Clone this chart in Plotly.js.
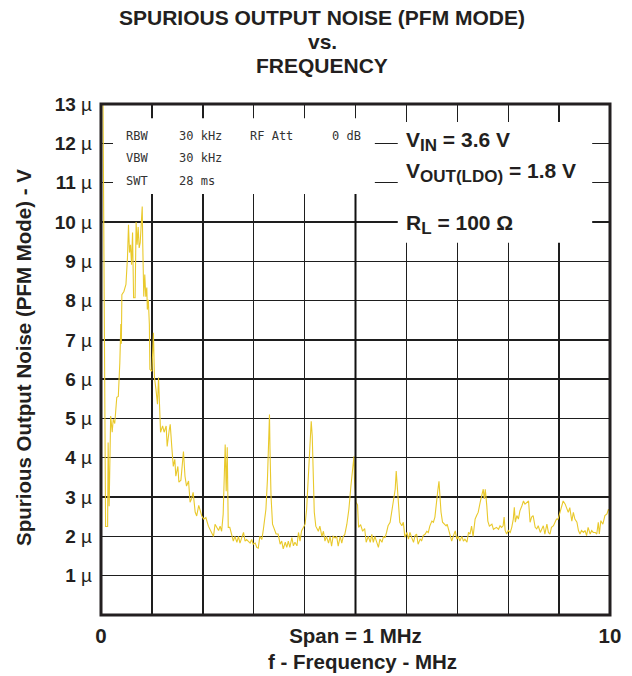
<!DOCTYPE html>
<html>
<head>
<meta charset="utf-8">
<script src="https://cdn.plot.ly/plotly-3.0.1.min.js"></script>
<style>html,body{margin:0;padding:0;background:#fff;}#chart{width:632px;height:676px;}</style>
</head>
<body>
<div id="chart"></div>
<script>
// Frequency (MHz) and spurious output noise (µV)
const freqMHz = [
0.00,0.04,0.09,0.13,0.14,0.16,0.19,0.22,0.24,0.27,0.31,0.34,0.37,0.39,0.40,0.41,0.45,0.49,0.52,0.54,
0.56,0.58,0.60,0.62,0.64,0.67,0.69,0.71,0.73,0.75,0.77,0.79,0.81,0.82,0.84,0.86,0.88,0.90,0.91,0.93,
0.95,0.96,1.00,1.03,1.05,1.08,1.11,1.13,1.15,1.17,1.21,1.24,1.28,1.30,1.34,1.36,1.39,1.42,1.45,1.47,
1.51,1.53,1.57,1.59,1.62,1.65,1.68,1.72,1.75,1.78,1.81,1.85,1.88,1.92,1.95,1.98,2.02,2.06,2.11,2.18,
2.21,2.24,2.27,2.31,2.34,2.37,2.40,2.44,2.46,2.48,2.50,2.53,2.60,2.63,2.67,2.70,2.73,2.76,2.80,2.83,
2.86,2.93,2.96,2.99,3.03,3.06,3.09,3.12,3.16,3.19,3.24,3.27,3.29,3.31,3.32,3.34,3.37,3.40,3.44,3.48,
3.52,3.55,3.58,3.62,3.65,3.68,3.71,3.75,3.78,3.81,3.85,3.88,3.91,3.94,3.97,4.01,4.04,4.07,4.11,4.13,
4.15,4.17,4.19,4.22,4.27,4.30,4.34,4.37,4.40,4.43,4.47,4.50,4.53,4.56,4.60,4.63,4.66,4.70,4.73,4.76,
4.79,4.83,4.87,4.91,4.95,4.97,4.98,5.01,5.04,5.06,5.10,5.14,5.18,5.21,5.25,5.29,5.32,5.35,5.38,5.42,
5.45,5.48,5.52,5.55,5.58,5.61,5.64,5.68,5.71,5.74,5.78,5.80,5.82,5.85,5.87,5.91,5.94,5.97,6.01,6.04,
6.07,6.10,6.14,6.17,6.20,6.23,6.27,6.30,6.33,6.37,6.40,6.43,6.46,6.50,6.53,6.56,6.60,6.62,6.64,6.66,
6.68,6.71,6.75,6.78,6.80,6.84,6.89,6.92,6.96,6.99,7.02,7.05,7.09,7.12,7.15,7.19,7.22,7.25,7.28,7.31,
7.35,7.38,7.41,7.45,7.48,7.51,7.53,7.55,7.58,7.60,7.63,7.68,7.71,7.77,7.81,7.84,7.87,7.90,7.92,7.94,
7.97,8.00,8.04,8.07,8.10,8.12,8.14,8.17,8.20,8.23,8.27,8.30,8.33,8.36,8.40,8.43,8.46,8.49,8.53,8.56,
8.59,8.63,8.66,8.69,8.72,8.76,8.79,8.82,8.85,8.89,8.92,8.95,8.98,9.02,9.05,9.08,9.12,9.15,9.18,9.21,
9.25,9.28,9.31,9.35,9.38,9.41,9.44,9.48,9.51,9.54,9.57,9.61,9.64,9.67,9.71,9.74,9.77,9.79,9.82,9.86,
9.90,9.94,9.97,10.00
];
const noiseUV = [
13.0,13.0,2.25,2.25,4.39,2.77,5.06,4.65,4.98,4.87,5.54,5.56,6.42,7.40,6.90,8.15,8.23,8.41,9.09,9.93,
9.22,9.42,8.91,9.73,8.07,8.07,10.00,9.42,9.87,9.34,9.47,10.18,10.39,9.45,8.10,8.66,8.10,8.33,7.77,8.02,
7.39,6.25,6.20,7.18,6.04,5.74,5.36,6.04,5.38,4.65,4.81,4.65,4.81,4.29,4.70,4.85,4.29,3.78,3.96,3.53,
3.78,3.38,3.43,3.78,4.16,3.53,3.28,3.41,2.87,2.96,3.12,2.62,2.52,2.79,2.62,2.52,2.44,2.48,2.26,2.10,
2.00,2.31,2.23,2.15,2.26,2.13,2.56,4.34,3.15,4.27,2.23,2.23,1.88,2.00,1.85,2.00,1.83,1.96,2.10,1.88,
1.92,1.83,1.92,1.80,1.83,1.72,1.70,2.00,1.92,2.18,2.69,3.45,4.47,5.10,4.22,3.03,2.31,2.18,2.06,2.06,
1.80,1.88,1.68,1.85,1.72,1.88,1.72,1.97,1.76,1.85,1.76,2.10,1.88,2.14,2.23,2.31,2.69,3.38,4.22,4.93,
4.55,3.28,2.62,2.26,2.13,2.26,2.00,2.13,1.88,2.00,1.83,2.00,1.75,2.00,1.96,2.00,1.75,2.00,1.83,2.00,
2.05,2.31,2.69,3.28,3.78,4.04,3.45,2.87,2.80,2.23,2.30,2.13,2.20,1.85,2.00,1.85,2.05,1.85,2.00,1.80,
1.72,1.93,1.85,2.00,1.96,2.10,2.27,2.36,2.61,2.87,3.20,3.66,3.28,2.77,2.36,2.27,2.36,1.98,2.10,1.93,
2.10,1.98,1.85,2.02,2.06,1.80,1.93,1.89,2.02,2.06,2.13,2.10,2.26,2.39,2.36,2.49,2.87,3.20,3.40,3.03,
2.62,2.36,2.31,2.27,2.31,2.14,1.88,2.00,2.14,1.93,2.00,1.88,2.00,1.88,1.93,1.85,2.10,2.06,2.26,2.00,
2.44,2.53,2.61,2.87,3.03,3.20,2.95,3.20,2.77,2.39,2.26,2.31,2.18,2.23,2.18,2.27,2.23,2.27,2.49,2.15,
2.06,2.15,2.10,2.23,2.44,2.74,2.36,2.53,2.44,2.65,2.78,2.90,2.82,2.86,2.90,2.36,2.49,2.53,2.23,2.19,
2.27,2.10,2.19,2.27,2.06,2.31,2.10,2.06,2.23,2.27,2.36,2.44,2.44,2.62,2.70,2.90,2.82,2.73,2.61,2.73,
2.39,2.61,2.44,2.36,2.15,2.06,2.15,2.10,2.15,2.02,2.23,2.06,2.15,2.10,2.10,2.06,2.36,2.06,2.40,2.31,
2.53,2.57,2.69,2.62
];
const yTickVals = [0,1,2,3,4,5,6,7,8,9,10,11,12,13];
const yTickText = ["", "1", "2", "3", "4", "5", "6", "7", "8", "9", "10", "11", "12", "13"];
const xTickVals = [0,1,2,3,4,5,6,7,8,9,10];
const xTickText = ["0","","","","","Span = 1 MHz","","","","","10"];
const titleLines = ["SPURIOUS OUTPUT NOISE (PFM MODE)", "vs.", "FREQUENCY"];
const analyzerRows = [
  ["RBW", "30 kHz", "RF Att", "0 dB"],
  ["VBW", "30 kHz", "", ""],
  ["SWT", "28 ms", "", ""]
];
const conditionParts = [["V", "IN", " = 3.6 V"], ["V", "OUT(LDO)", " = 1.8 V"], ["R", "L", " = 100 Ω"]];

const FONT = "Liberation Sans, Arial, sans-serif";
const INK = "#231f20";
// plot area in pixels: left 101, right 610, top 104, bottom 615
const PL = 101, PW = 509, PB = 615, PH = 511;
const px2paperX = p => (p - PL) / PW;
const px2paperY = p => (PB - p) / PH;

const trace = {
  x: freqMHz, y: noiseUV, type: "scatter", mode: "lines",
  line: {color: "#E9C92C", width: 1.1}, hoverinfo: "skip", cliponaxis: true
};

const annotations = [];
const titleY = [18, 42, 66];
titleLines.forEach((t, i) => {
  annotations.push({x: px2paperX(322), y: px2paperY(titleY[i]), xref: "paper", yref: "paper",
    text: "<b>" + t + "</b>", showarrow: false, xanchor: "center", yanchor: "middle",
    font: {family: FONT, size: 21, color: INK}});
});
const colX = [0.45, 1.49, 2.89, 4.50];
const rowY = [12.19, 11.63, 11.05];
analyzerRows.forEach((row, r) => {
  row.forEach((t, c) => {
    if (!t) return;
    annotations.push({x: colX[c], y: rowY[r], xref: "x", yref: "y", text: t, showarrow: false,
      xanchor: "left", yanchor: "middle",
      font: {family: "DejaVu Sans Mono, monospace", size: 12, color: "#333"}});
  });
});
const condY = [12.04, 11.25, 9.93];
conditionParts.forEach((p, i) => {
  const txt = "<b>" + p[0] + "<sub><span style='font-size:17px'>" + p[1] + "</span></sub>" + p[2] + "</b>";
  annotations.push({x: 5.96, y: condY[i], xref: "x", yref: "y", text: txt, showarrow: false,
    xanchor: "left", yanchor: "middle", font: {family: FONT, size: 21, color: INK}});
});
annotations.push({x: px2paperX(23), xref: "paper", y: px2paperY(358), yref: "paper", xanchor: "center", yanchor: "middle",
  text: "<b>Spurious Output Noise (PFM Mode) - V</b>", textangle: -90, showarrow: false,
  font: {family: FONT, size: 20.5, color: INK}});
annotations.push({x: px2paperX(362), xref: "paper", y: px2paperY(661), yref: "paper",
  xanchor: "center", yanchor: "middle", text: "<b>f - Frequency - MHz</b>", showarrow: false,
  font: {family: FONT, size: 20.5, color: INK}});

const shapes = [
  // white panels behind the text blocks
  {type: "rect", xref: "x", yref: "y", x0: 0.236, x1: 5.38, y0: 10.71, y1: 12.64,
   fillcolor: "#fff", line: {width: 0}, layer: "above"},
  {type: "rect", xref: "x", yref: "y", x0: 5.83, x1: 9.65, y0: 9.47, y1: 12.54,
   fillcolor: "#fff", line: {width: 0}, layer: "above"},
  // heavier centre line
  {type: "line", xref: "x", yref: "y", x0: 5, x1: 5, y0: 0, y1: 10.71,
   line: {color: "#111", width: 2}, layer: "above"},
  // frame
  {type: "rect", xref: "paper", yref: "paper", x0: 0, x1: 1, y0: 0, y1: 1,
   line: {color: INK, width: 3}, layer: "above"}
];

const layout = {
  width: 632, height: 676,
  margin: {l: PL, r: 632 - PL - PW, t: PB - PH, b: 676 - PB},
  paper_bgcolor: "#fff", plot_bgcolor: "#fff",
  showlegend: false,
  font: {family: FONT, color: INK},
  xaxis: {range: [0, 10], tickmode: "array", tickvals: xTickVals, ticktext: xTickText.map(t => t ? "<b>" + t + "</b>" : ""),
    showgrid: true, gridcolor: "#1e1e1e", gridwidth: 1.4, zeroline: false, showline: false,
    ticks: "", ticklabelstandoff: 6, tickfont: {family: FONT, size: 20.5, color: INK}, fixedrange: true},
  yaxis: {range: [0, 13], tickmode: "array", tickvals: yTickVals,
    ticktext: yTickText.map(t => t ? "<b>" + t + "</b> µ" : ""),
    showgrid: true, gridcolor: "#1e1e1e", gridwidth: 1.4, zeroline: false, showline: false,
    ticks: "", ticklabelstandoff: 8, tickfont: {family: FONT, size: 19, color: INK}, fixedrange: true},
  annotations: annotations,
  shapes: shapes
};

Plotly.newPlot("chart", [trace], layout, {displayModeBar: false, staticPlot: true});
</script>
</body>
</html>
